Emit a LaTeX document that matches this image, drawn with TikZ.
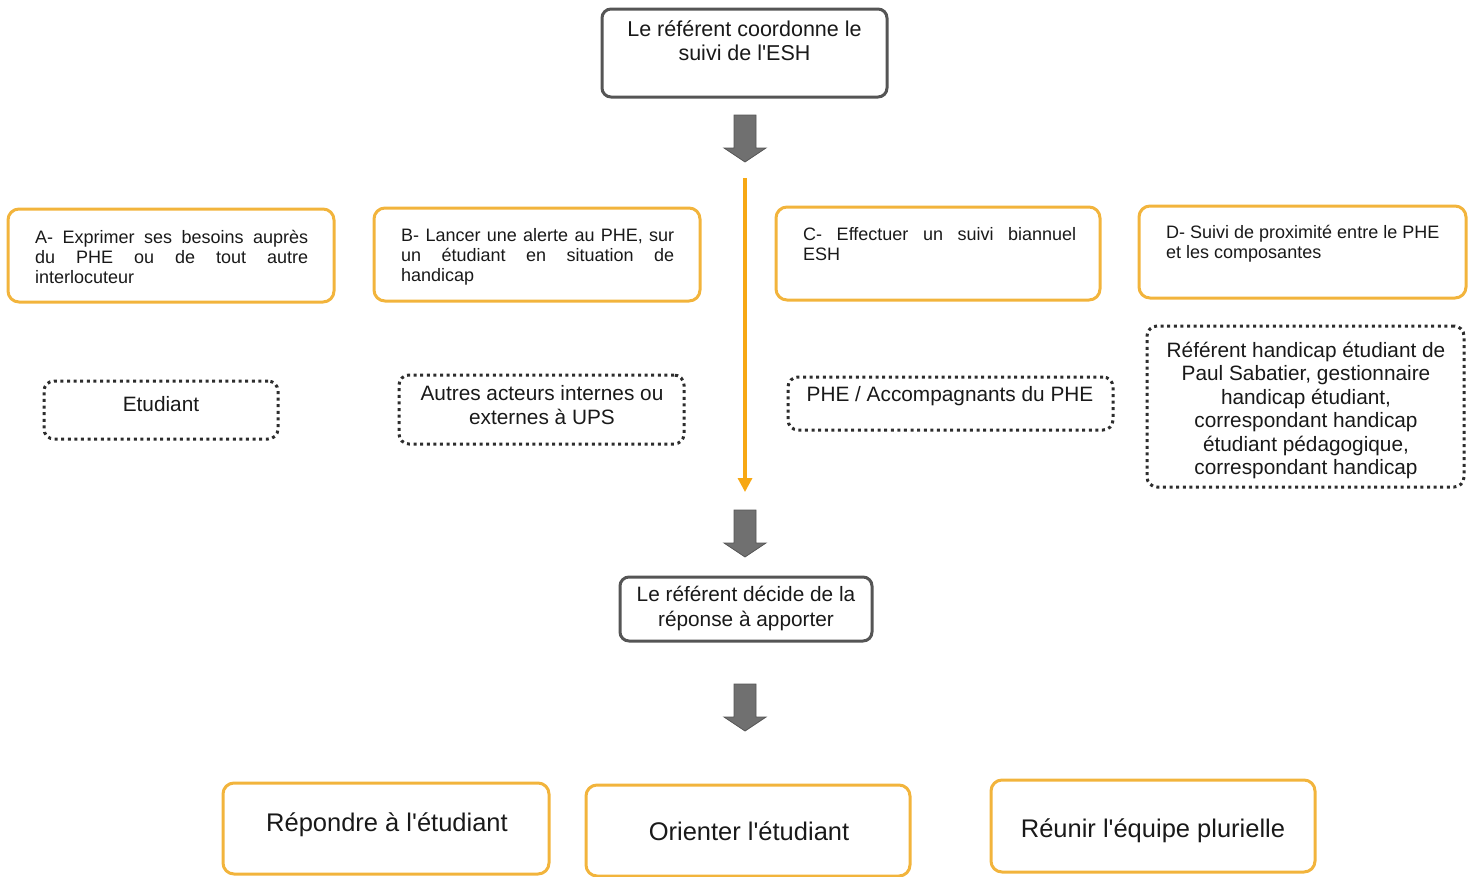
\documentclass[tikz,border=0pt]{standalone}
\usepackage{fontspec}
\setmainfont{Liberation Sans}[Ligatures=TeXOff]
\usetikzlibrary{arrows.meta}
\definecolor{boxgray}{RGB}{85,85,85}
\definecolor{boxorange}{RGB}{242,180,60}
\definecolor{linorange}{RGB}{247,168,20}
\definecolor{dotgray}{RGB}{45,45,45}
\definecolor{arrowgray}{RGB}{112,112,112}
\definecolor{txtcol}{RGB}{25,25,25}
\newcommand\tp{\rule{0pt}{1em}}
\newcommand\jl[1]{\makebox[273pt][s]{#1}}
\begin{document}
\begin{tikzpicture}[x=1pt,y=-1pt,
  graybox/.style={draw=boxgray,line width=3pt,rounded corners=9pt,inner sep=0pt},
  orangebox/.style={draw=boxorange,line width=3pt,rounded corners=11pt,inner sep=0pt},
  dotbox/.style={draw=dotgray,line width=3pt,dash pattern=on 3pt off 3.6pt,rounded corners=10pt,inner sep=0pt},
  tsmall/.style={inner sep=0pt,text=txtcol,font=\fontsize{18}{20}\selectfont,align=left,anchor=north west},
  tmid/.style={inner sep=0pt,text=txtcol,font=\fontsize{20.8}{23.5}\selectfont,align=center,anchor=north},
  tbig/.style={inner sep=0pt,text=txtcol,font=\fontsize{25.5}{28}\selectfont,align=center,anchor=north},
  blockarrow/.style={fill=arrowgray,draw=boxgray,line width=0.8pt},
  flowline/.style={draw=linorange,line width=3.2pt,-{Triangle[width=14pt,length=14pt]}}]
\useasboundingbox (0,0) rectangle (1474,876);
\clip (0,0) rectangle (1474,876);

% boxes
\node[graybox,minimum width=285pt,minimum height=88pt] (top) at (744.5,53) {};
\node[orangebox,minimum width=326pt,minimum height=93pt] (A) at (171,255.5) {};
\node[orangebox,minimum width=326pt,minimum height=93pt] (B) at (537,254.5) {};
\node[orangebox,minimum width=324pt,minimum height=93pt] (C) at (938,253.5) {};
\node[orangebox,minimum width=327pt,minimum height=92pt] (D) at (1302.5,252) {};
\node[dotbox,minimum width=234pt,minimum height=58pt] (etud) at (161,410) {};
\node[dotbox,minimum width=285pt,minimum height=69pt] (autres) at (541.5,409.5) {};
\node[dotbox,minimum width=325pt,minimum height=53pt] (phe) at (950.5,403.5) {};
\node[dotbox,minimum width=317pt,minimum height=161pt] (ref) at (1305.5,406.5) {};
\node[graybox,minimum width=252pt,minimum height=64pt] (mid) at (746,609) {};
\node[orangebox,minimum width=326pt,minimum height=91pt] (rep) at (386,828.5) {};
\node[orangebox,minimum width=324pt,minimum height=91pt] (ori) at (748,830.5) {};
\node[orangebox,minimum width=324pt,minimum height=92pt] (reu) at (1153,826) {};

% texts
\node[tmid,font=\fontsize{21.5}{24}\selectfont] (ttop) at (744.5,14.5) {\tp Le référent coordonne le\\suivi de l'ESH};
\node[tsmall] (tA) at (35,225.5) {\tp\jl{A- Exprimer ses besoins auprès}\\\jl{du PHE ou de tout autre}\\interlocuteur};
\node[tsmall] (tB) at (401,223.5) {\tp\jl{B- Lancer une alerte au PHE, sur}\\\jl{un étudiant en situation de}\\handicap};
\node[tsmall] (tC) at (803,222.5) {\tp\jl{C- Effectuer un suivi biannuel}\\ESH};
\node[tsmall] (tD) at (1166,220.5) {\tp D- Suivi de proximité entre le PHE\\et les composantes};
\node[tmid] (tetud) at (161,390) {\tp Etudiant};
\node[tmid] (tautres) at (542,379.5) {\tp Autres acteurs internes ou\\externes à UPS};
\node[tmid] (tphe) at (950,380.5) {\tp PHE / Accompagnants du PHE};
\node[tmid,font=\fontsize{20.8}{23.4}\selectfont] (tref) at (1306,336.5) {\tp Référent handicap étudiant de\\Paul Sabatier, gestionnaire\\handicap étudiant,\\correspondant handicap\\étudiant pédagogique,\\correspondant handicap};
\node[tmid,font=\fontsize{20.8}{24.5}\selectfont] (tmidt) at (746,580.5) {\tp Le référent décide de la\\réponse à apporter};
\node[tbig] (trep) at (387,806) {\tp Répondre à l'étudiant};
\node[tbig] (tori) at (749,815) {\tp Orienter l'étudiant};
\node[tbig] (treu) at (1153,812) {\tp Réunir l'équipe plurielle};

% block arrows
\foreach \yt in {115,510,684}{
  \draw[blockarrow] (734,\yt) -- (756,\yt) -- (756,\yt+33) -- (766,\yt+33) -- (745,\yt+47) -- (724,\yt+33) -- (734,\yt+33) -- cycle;
}

% orange flow line
\coordinate (os) at (745,178);
\coordinate (oe) at (745,492);
\draw[flowline] (os) -- (oe);
\end{tikzpicture}
\end{document}
